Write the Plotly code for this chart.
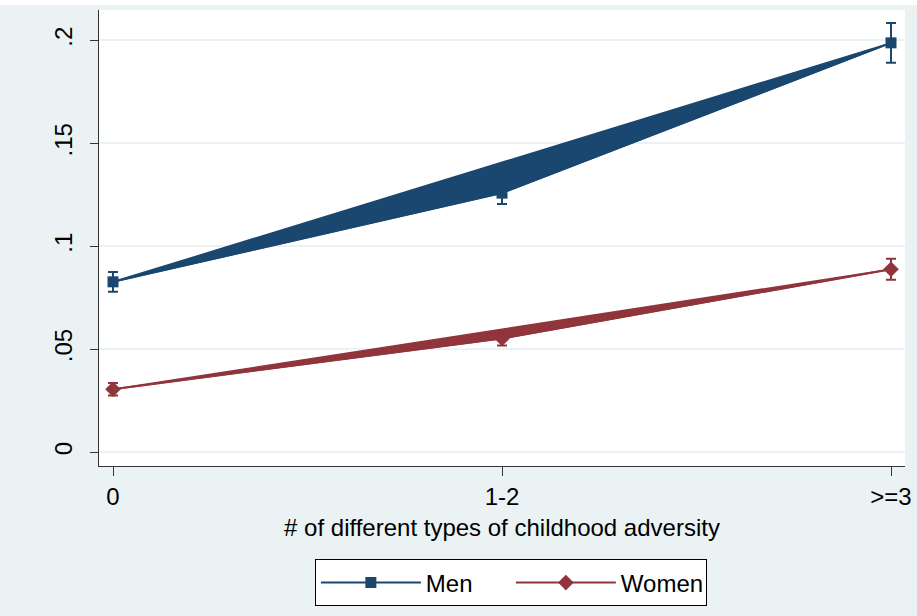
import plotly.graph_objects as go

# Adversity categories and their positions on the x axis
categories = ["0", "1-2", ">=3"]
x_pos = [0, 1, 2]

# Predicted proportions with error half-widths
men = [0.0827, 0.1258, 0.1988]
men_err = [0.0048, 0.0053, 0.0097]
women = [0.0305, 0.0552, 0.0888]
women_err = [0.0030, 0.0034, 0.0051]

y_ticks = [0, 0.05, 0.1, 0.15, 0.2]
y_labels = ["0", ".05", ".1", ".15", ".2"]

NAVY = "#1A476F"
MAROON = "#90353B"
BG = "#EAF2F3"
NARROW = "Liberation Sans Narrow, Arial Narrow, Liberation Sans, sans-serif"
WIDE = "Liberation Sans, Arial, sans-serif"

fig = go.Figure()

series = [("Men", men, men_err, NAVY, "square", 11),
          ("Women", women, women_err, MAROON, "diamond", 12)]

for name, vals, errs, col, sym, msize in series:
    # filled wedge between the straight first-to-last line and the point path
    fig.add_trace(go.Scatter(
        x=x_pos + [x_pos[0]], y=vals + [vals[0]],
        mode="lines", fill="toself", fillcolor=col,
        line=dict(color=col, width=1.5),
        showlegend=False, hoverinfo="skip",
    ))
    fig.add_trace(go.Scatter(
        x=x_pos, y=vals, name=name,
        mode="lines+markers",
        line=dict(color=col, width=2),
        marker=dict(symbol=sym, size=msize, color=col),
        error_y=dict(type="data", array=errs, color=col, thickness=2, width=5),
    ))

fig.update_layout(
    width=917, height=616,
    margin=dict(l=99, r=12, t=10, b=148),
    paper_bgcolor=BG, plot_bgcolor="white",
    font=dict(family=NARROW, size=24, color="black"),
    showlegend=True,
    legend=dict(
        orientation="h", x=0.511, xanchor="center", y=-0.205, yanchor="top",
        bgcolor="white", bordercolor="black", borderwidth=1,
        font=dict(family=NARROW, size=24), itemwidth=100,
        entrywidth=80, entrywidthmode="pixels",
    ),
    xaxis=dict(
        range=[-0.036, 2.036], tickmode="array", tickvals=x_pos, ticktext=categories,
        automargin=False,
        showgrid=False, zeroline=False,
        showline=True, linecolor="#333333", linewidth=1,
        ticks="outside", ticklen=9, tickcolor="#333333",
        tickfont=dict(family=NARROW, size=24),
        title=dict(text="# of different types of childhood adversity", standoff=10,
                   font=dict(family=NARROW, size=24)),
    ),
    yaxis=dict(
        range=[-0.00677, 0.21476], tickmode="array", tickvals=y_ticks, ticktext=y_labels,
        automargin=False,
        tickangle=-90, tickfont=dict(family=WIDE, size=24), ticklabelstandoff=8,
        showgrid=True, gridcolor=BG, gridwidth=2, zeroline=False,
        showline=True, linecolor="#333333", linewidth=1,
        ticks="outside", ticklen=8, tickcolor="#333333",
    ),
    shapes=[dict(
        type="rect", xref="paper", yref="paper",
        x0=-99 / 806, x1=1 + 12 / 806, y0=1 + 5 / 458, y1=1 + 10 / 458,
        fillcolor="white", line=dict(width=0), layer="below",
    )],
)

fig.write_html("out.html")
